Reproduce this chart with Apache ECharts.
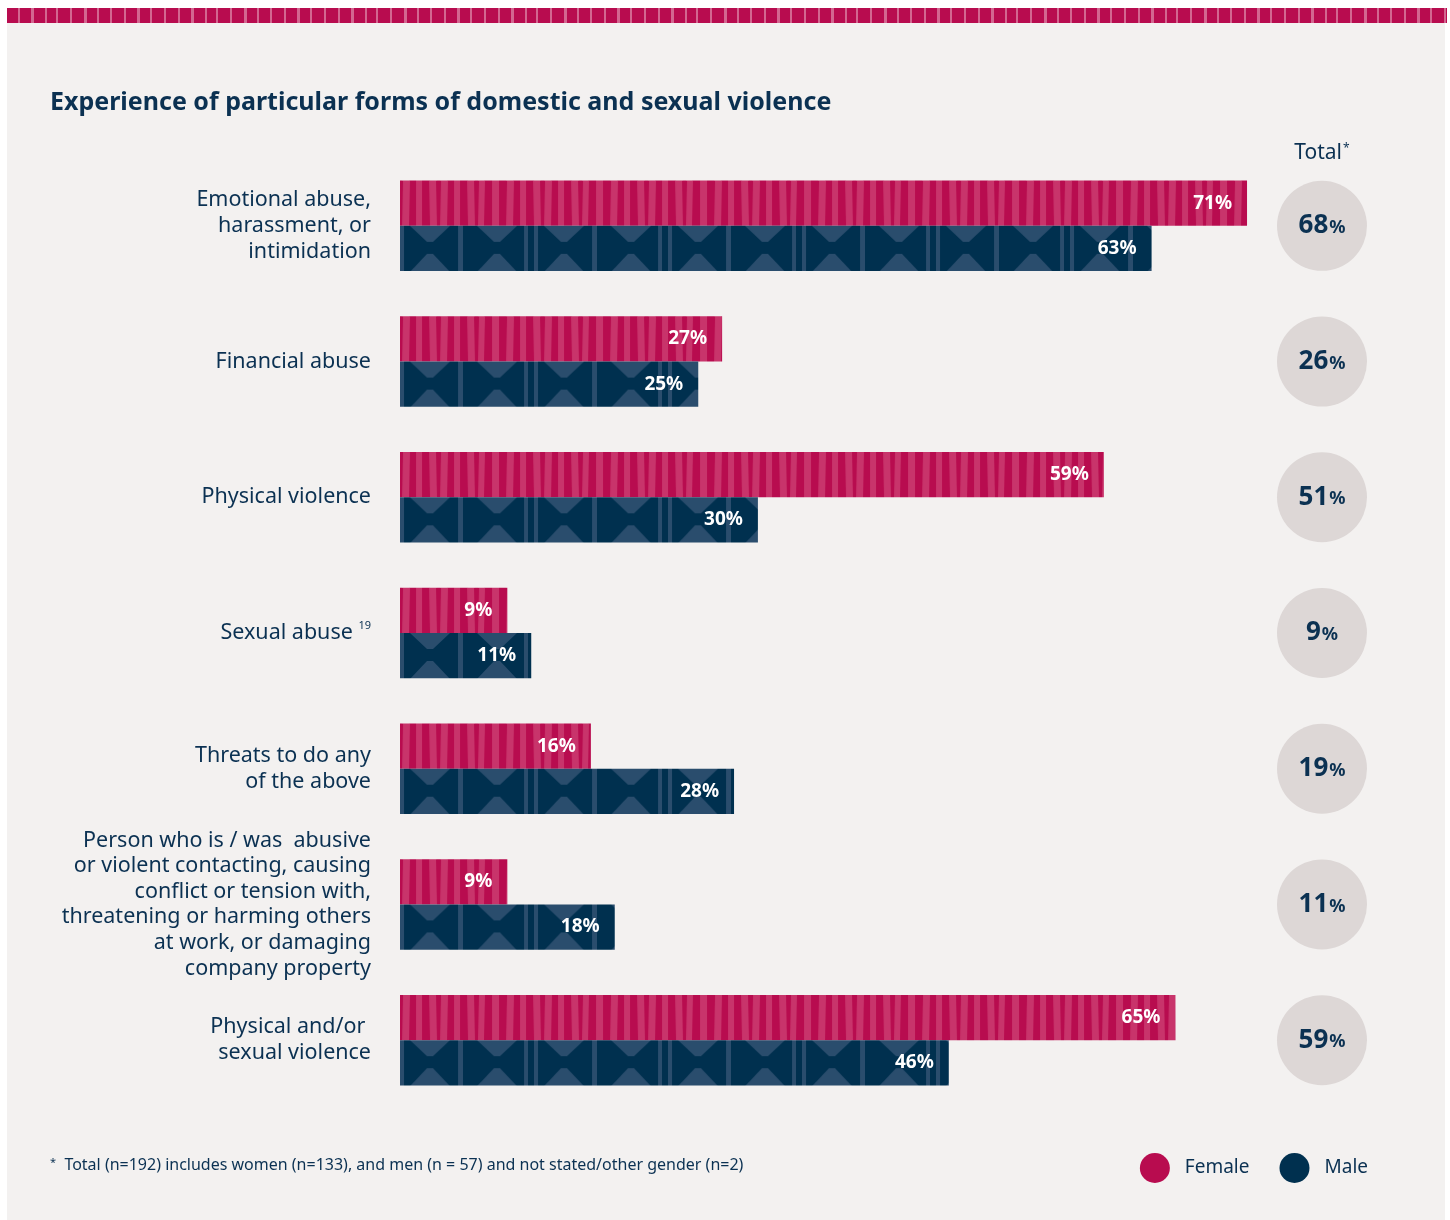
<!DOCTYPE html>
<html>
<head>
<meta charset="utf-8">
<script src="https://cdn.jsdelivr.net/npm/echarts@6/dist/echarts.min.js"></script>
<style>
  html, body { margin: 0; padding: 0; background: #ffffff; }
  #chart { width: 1450px; height: 1220px; }
</style>
</head>
<body>
<div id="chart"></div>
<script>
// ---- Data ----
const categories = [
  'Emotional abuse,\nharassment, or\nintimidation',
  'Financial abuse',
  'Physical violence',
  'Sexual abuse',
  'Threats to do any\nof the above',
  'Person who is / was  abusive\nor violent contacting, causing\nconflict or tension with,\nthreatening or harming others\nat work, or damaging\ncompany property',
  'Physical and/or \nsexual violence'
];
const femaleValues = [71, 27, 59, 9, 16, 9, 65];
const maleValues   = [63, 25, 30, 11, 28, 18, 46];
const totalValues  = [68, 26, 51, 9, 19, 11, 59];
const seriesNames  = ['Female', 'Male'];
const totalLabel   = 'Total';

// ---- Styles ----
const NAVY = '#0b3152';
const CRIMSON = '#b80c4f';
const DARKBLUE = '#00304f';
const FONT = '"Noto Sans", "Open Sans", sans-serif';

function femalePattern() {
  const c = document.createElement('canvas');
  c.width = 104; c.height = 46;
  const x = c.getContext('2d');
  x.fillStyle = CRIMSON; x.fillRect(0, 0, 104, 46);
  x.fillStyle = '#c8346b';
  const xs = [3, 16, 29, 41, 54, 67, 79, 92];
  const ws = [7, 6, 7, 7, 6, 7, 6, 7];
  xs.forEach((s, k) => {
    const w = ws[k];
    const sl = (k % 3) - 1;
    x.beginPath();
    x.moveTo(s, 0); x.lineTo(s + w, 0);
    x.lineTo(s + w + sl, 46); x.lineTo(s + sl, 46);
    x.closePath(); x.fill();
  });
  return c;
}

function malePattern() {
  const c = document.createElement('canvas');
  c.width = 134; c.height = 46;
  const x = c.getContext('2d');
  x.fillStyle = DARKBLUE; x.fillRect(0, 0, 134, 46);
  x.fillStyle = '#2a4d6d';
  [30, 97].forEach(cx => {
    x.beginPath();
    x.moveTo(cx - 20, 0); x.lineTo(cx + 20, 0);
    x.lineTo(cx + 3, 16); x.lineTo(cx - 3, 16);
    x.closePath(); x.fill();
    x.beginPath();
    x.moveTo(cx - 20, 46); x.lineTo(cx + 20, 46);
    x.lineTo(cx + 3, 28); x.lineTo(cx - 3, 28);
    x.closePath(); x.fill();
  });
  [[0, 4], [58, 5], [124, 4]].forEach(([s, w]) => x.fillRect(s, 0, w, 46));
  return c;
}

function stripePattern() {
  const c = document.createElement('canvas');
  c.width = 160; c.height = 15;
  const x = c.getContext('2d');
  x.fillStyle = CRIMSON; x.fillRect(0, 0, 160, 15);
  x.fillStyle = '#d36690';
  [[4, 2], [18, 2], [31, 3], [45, 2], [56, 2], [70, 2], [84, 3], [97, 2], [110, 2], [124, 2], [137, 3], [150, 2]]
    .forEach(([s, w]) => x.fillRect(s, 0, w, 15));
  return c;
}

const femaleFill = { image: femalePattern(), repeat: 'repeat' };
const maleFill = { image: malePattern(), repeat: 'repeat' };

function barRenderer(isFemale, fill) {
  return function (params, api) {
    const c = api.value(0);
    const v = api.value(1);
    const p0 = api.coord([0, c]);
    const p1 = api.coord([v, c]);
    const band = api.size([0, 1])[1];
    const h = band / 3;
    const top = isFemale ? p0[1] - h : p0[1];
    const w = p1[0] - p0[0];
    return {
      type: 'group',
      x: p0[0],
      y: top,
      children: [
        { type: 'rect', shape: { x: 0, y: 0, width: w, height: h }, style: { fill: fill } },
        {
          type: 'text', x: w - 15, y: h / 2,
          style: {
            text: v + '%', fill: '#ffffff',
            font: 'bold 19px ' + FONT, align: 'right', verticalAlign: 'middle'
          }
        }
      ]
    };
  };
}

const chart = echarts.init(document.getElementById('chart'), null, { renderer: 'canvas' });

const option = {
  backgroundColor: '#ffffff',
  animation: false,
  graphic: [
    { type: 'rect', z: -10, shape: { x: 7, y: 8, width: 1438, height: 1212 }, style: { fill: '#f3f1f0' } },
    { type: 'rect', z: -9, shape: { x: 7, y: 8, width: 1440, height: 15 }, style: { fill: { image: stripePattern(), repeat: 'repeat' } } }
  ],
  title: [
    {
      text: 'Experience of particular forms of domestic and sexual violence',
      left: 45, top: 85,
      textStyle: { color: NAVY, fontFamily: FONT, fontWeight: 'bold', fontSize: 25 }
    },
    {
      text: '{s|*}  Total (n=192) includes women (n=133), and men (n = 57) and not stated/other gender (n=2)',
      left: 45, top: 1152,
      textStyle: {
        color: NAVY, fontFamily: FONT, fontWeight: 'normal', fontSize: 16,
        rich: { s: { fontSize: 11, color: NAVY, fontFamily: FONT, verticalAlign: 'top', padding: [0, 0, 6, 0] } }
      }
    }
  ],
  legend: {
    data: seriesNames,
    right: 77, top: 1148,
    icon: 'circle',
    itemWidth: 30, itemHeight: 30, itemGap: 30,
    textStyle: { color: NAVY, fontFamily: FONT, fontSize: 19, padding: [0, 0, 0, 10] }
  },
  grid: [
    { left: 400, top: 158, width: 954.4, height: 950 },
    { left: 1277, top: 158, width: 90, height: 950 }
  ],
  xAxis: [
    { type: 'value', gridIndex: 0, min: 0, max: 80, show: false },
    {
      type: 'category', gridIndex: 1, data: [totalLabel], position: 'top',
      axisLine: { show: false }, axisTick: { show: false }, splitLine: { show: false },
      axisLabel: {
        margin: -6,
        formatter: v => '{a|' + v + '}{s|*}',
        rich: {
          a: { color: NAVY, fontFamily: FONT, fontSize: 21 },
          s: { color: NAVY, fontFamily: FONT, fontSize: 12, verticalAlign: 'top', padding: [0, 0, 8, 1] }
        }
      }
    }
  ],
  yAxis: [
    {
      type: 'category', gridIndex: 0, data: categories, inverse: true,
      axisLine: { show: false }, axisTick: { show: false }, splitLine: { show: false },
      axisLabel: {
        margin: 29, align: 'right',
        color: NAVY, fontFamily: FONT, fontSize: 21.5, lineHeight: 25.6,
        formatter: (v) => v === 'Sexual abuse' ? v + ' {sup|19}' : v,
        rich: { sup: { fontSize: 11, color: NAVY, fontFamily: FONT, verticalAlign: 'top', padding: [0, 0, 10, 0] } }
      }
    },
    { type: 'category', gridIndex: 1, data: categories, inverse: true, show: false }
  ],
  series: [
    {
      name: seriesNames[0], type: 'custom', xAxisIndex: 0, yAxisIndex: 0,
      itemStyle: { color: CRIMSON },
      renderItem: barRenderer(true, femaleFill),
      encode: { x: 1, y: 0 },
      data: femaleValues.map((v, i) => [i, v])
    },
    {
      name: seriesNames[1], type: 'custom', xAxisIndex: 0, yAxisIndex: 0,
      itemStyle: { color: DARKBLUE },
      renderItem: barRenderer(false, maleFill),
      encode: { x: 1, y: 0 },
      data: maleValues.map((v, i) => [i, v])
    },
    {
      name: 'Total', type: 'scatter', xAxisIndex: 1, yAxisIndex: 1,
      symbol: 'circle', symbolSize: 90,
      itemStyle: { color: '#ddd7d6', opacity: 1 },
      encode: { x: 0, y: 1 },
      label: {
        show: true, position: 'inside',
        formatter: p => '{n|' + p.value[2] + '}{p|%}',
        rich: {
          n: { color: NAVY, fontFamily: FONT, fontWeight: 'bold', fontSize: 26 },
          p: { color: NAVY, fontFamily: FONT, fontWeight: 'bold', fontSize: 18, padding: [4, 0, 0, 1] }
        }
      },
      emphasis: { disabled: true },
      data: totalValues.map((v, i) => [0, i, v])
    }
  ]
};

chart.setOption(option);
</script>
</body>
</html>
